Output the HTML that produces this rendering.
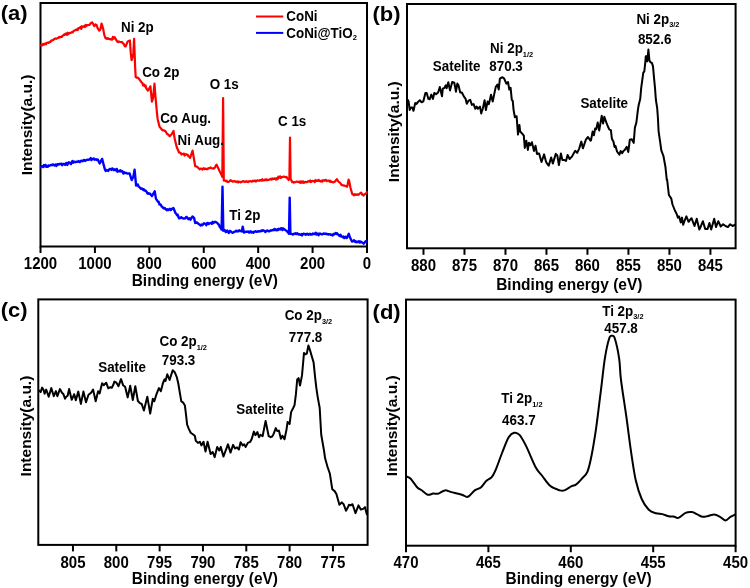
<!DOCTYPE html>
<html><head><meta charset="utf-8"><style>
html,body{margin:0;padding:0;background:#fff;}
svg{display:block;}
text{font-family:"Liberation Sans",sans-serif;font-weight:bold;fill:#000;}
svg{will-change:transform;}
</style></head><body>
<svg width="750" height="588" viewBox="0 0 750 588">
<rect x="40.5" y="3.0" width="326.50" height="243.50" fill="none" stroke="#000" stroke-width="2"/>
<rect x="407.0" y="4.0" width="328.60" height="244.30" fill="none" stroke="#000" stroke-width="2"/>
<rect x="38.3" y="299.4" width="329.30" height="245.50" fill="none" stroke="#000" stroke-width="2"/>
<rect x="406.0" y="299.6" width="329.60" height="246.10" fill="none" stroke="#000" stroke-width="2"/>
<path d="M406.4,476.5 C407.1,476.9 408.9,476.9 410.7,478.7 C412.5,480.5 415.3,485.3 417.1,487.2 C418.9,489.1 419.5,488.8 421.3,490.0 C423.1,491.2 425.7,494.1 427.7,494.7 C429.7,495.3 431.3,493.8 433.1,493.6 C434.9,493.4 436.4,494.1 438.4,493.6 C440.3,493.1 442.7,490.6 444.8,490.4 C446.9,490.1 448.4,491.4 451.2,492.1 C454.0,492.8 459.1,493.9 461.9,494.7 C464.7,495.5 465.7,497.5 467.8,496.8 C469.9,496.1 472.5,492.0 474.7,490.4 C476.9,488.8 479.2,488.8 481.1,487.2 C483.1,485.6 484.6,482.5 486.4,480.8 C488.2,479.1 490.1,479.1 491.7,477.2 C493.3,475.2 494.2,473.3 496.0,469.1 C497.8,464.9 500.3,457.3 502.4,452.0 C504.5,446.7 506.9,440.3 508.8,437.1 C510.8,433.9 512.3,433.2 514.1,432.8 C515.9,432.4 517.5,432.8 519.5,434.9 C521.5,437.0 523.2,440.3 525.9,445.6 C528.6,450.9 532.8,461.9 535.5,466.9 C538.2,471.9 539.4,472.3 541.9,475.5 C544.4,478.7 547.4,483.6 550.4,486.1 C553.4,488.6 557.7,489.7 560.0,490.4 C562.3,491.1 562.4,491.1 564.3,490.4 C566.2,489.7 569.7,487.1 571.6,486.1 C573.5,485.1 574.2,485.8 575.9,484.6 C577.6,483.4 579.8,481.0 581.7,478.8 C583.6,476.6 585.8,475.7 587.5,471.6 C589.2,467.5 590.4,461.5 591.8,454.3 C593.2,447.1 594.6,438.4 596.1,428.3 C597.6,418.2 599.0,405.2 600.5,393.6 C602.0,382.0 603.4,368.0 604.8,358.9 C606.2,349.8 607.9,342.5 609.1,338.7 C610.3,334.9 611.0,335.8 612.0,335.8 C613.0,335.8 613.7,334.9 614.9,338.7 C616.1,342.5 618.2,352.0 619.2,358.9 C620.2,365.8 619.8,370.5 621.0,380.0 C622.2,389.5 624.5,403.8 626.2,415.7 C627.9,427.6 629.4,440.7 631.0,451.4 C632.6,462.1 633.9,472.1 635.7,480.0 C637.5,487.9 639.5,494.0 641.7,499.0 C643.9,504.0 646.4,507.4 648.8,509.8 C651.2,512.2 653.7,512.6 656.0,513.3 C658.3,514.0 660.3,513.6 662.4,514.1 C664.5,514.6 666.9,515.9 668.8,516.3 C670.7,516.7 672.0,516.2 673.6,516.5 C675.2,516.8 676.4,518.5 678.4,517.9 C680.4,517.3 683.3,513.8 685.6,512.8 C687.9,511.8 690.1,511.8 692.0,512.0 C693.9,512.2 695.1,513.3 696.8,514.1 C698.5,514.9 700.5,516.5 702.4,516.8 C704.3,517.1 706.0,516.4 708.0,516.0 C710.0,515.6 712.4,514.3 714.4,514.4 C716.4,514.5 718.1,515.8 720.0,516.8 C721.9,517.8 723.9,520.5 725.6,520.5 C727.3,520.5 728.9,517.7 730.4,516.8 C731.9,515.9 733.7,515.2 734.4,514.9" fill="none" stroke="#000" stroke-width="2" stroke-linejoin="round" stroke-linecap="round"/>
<path d="M407.5,99.7 L408.5,101.0 L409.7,109.9 L410.9,107.4 L412.2,107.4 L413.5,110.8 L415.2,103.1 L416.5,104.0 L417.7,102.3 L419.9,100.2 L421.6,102.3 L423.3,101.4 L425.4,92.9 L426.7,92.9 L428.4,98.9 L429.6,99.3 L431.3,94.6 L433.0,98.9 L434.3,92.9 L436.0,94.2 L438.1,92.5 L439.8,87.0 L442.0,96.3 L442.8,88.7 L444.5,87.8 L445.8,85.3 L446.6,88.3 L448.3,82.3 L450.0,90.4 L452.2,81.9 L454.3,82.7 L456.0,91.7 L457.3,83.6 L458.5,85.3 L460.2,92.5 L461.9,92.5 L463.8,96.4 L465.5,98.6 L466.8,103.7 L468.5,100.7 L470.2,99.8 L471.9,104.9 L473.6,104.1 L475.3,108.8 L476.6,106.6 L477.8,108.8 L480.0,106.6 L481.2,113.4 L482.9,108.3 L484.6,100.3 L485.9,110.0 L487.6,101.5 L488.9,104.1 L491.0,94.7 L492.7,101.5 L495.7,87.1 L497.4,84.5 L498.7,89.6 L499.9,78.6 L501.2,77.8 L502.5,77.3 L504.2,78.6 L506.3,83.7 L508.0,82.0 L509.3,89.6 L510.6,87.9 L511.8,99.8 L512.7,100.7 L513.6,110.1 L514.9,117.2 L516.6,116.2 L518.0,134.6 L519.4,124.9 L520.2,131.5 L522.2,133.6 L523.8,135.6 L524.8,147.9 L526.3,140.7 L527.9,149.9 L528.9,142.8 L530.4,145.3 L531.9,142.2 L534.0,150.9 L535.5,145.8 L537.0,154.0 L539.1,153.5 L541.5,162.0 L544.1,154.4 L546.1,162.0 L547.4,164.0 L548.7,165.6 L551.2,157.4 L552.8,163.6 L555.8,153.9 L557.3,155.4 L558.9,165.1 L560.9,153.4 L562.4,160.0 L564.5,160.0 L566.0,161.0 L567.6,154.9 L569.6,159.0 L572.1,156.4 L573.1,154.4 L574.2,152.5 L575.2,150.8 L577.2,152.9 L579.3,148.3 L581.3,141.6 L582.9,148.3 L585.9,139.6 L588.0,137.0 L590.5,140.6 L591.0,140.3 L592.6,131.6 L593.9,135.2 L595.1,128.6 L596.3,129.1 L597.7,122.4 L599.2,130.6 L601.7,115.8 L603.1,123.5 L604.3,116.8 L606.3,122.4 L607.9,126.5 L609.4,129.6 L610.9,130.1 L611.9,138.8 L613.5,141.8 L614.5,146.9 L615.5,145.9 L617.0,151.5 L619.4,154.6 L620.6,151.0 L622.1,153.1 L623.4,151.1 L624.7,150.0 L626.7,146.9 L628.3,152.0 L629.8,139.8 L631.8,139.3 L633.7,142.9 L634.9,127.6 L636.4,122.4 L638.0,109.2 L638.7,105.0 L640.2,99.1 L641.2,87.9 L642.2,80.7 L643.3,72.6 L644.3,71.5 L645.3,62.3 L645.8,56.2 L646.8,56.2 L647.3,61.3 L648.4,49.6 L649.4,60.3 L650.4,62.3 L651.9,62.9 L653.0,66.4 L654.0,77.7 L655.0,87.9 L655.9,100.0 L657.2,108.2 L657.9,117.7 L658.6,131.3 L660.0,140.8 L661.3,150.3 L663.4,155.8 L665.4,166.7 L666.8,180.0 L667.1,179.5 L668.9,195.0 L671.3,198.6 L672.5,204.5 L674.9,210.5 L676.7,214.0 L677.9,217.6 L679.0,216.4 L680.8,222.4 L682.0,217.6 L683.2,224.8 L684.4,221.2 L686.4,216.4 L688.6,221.8 L690.0,219.9 L691.5,218.2 L694.5,226.0 L696.7,218.8 L699.3,229.5 L700.5,227.2 L701.7,224.2 L702.9,221.2 L705.2,228.9 L707.6,228.9 L709.4,223.0 L711.2,229.5 L714.2,218.8 L716.0,227.1 L718.3,221.2 L720.7,226.5 L723.1,224.2 L725.5,226.0 L727.9,227.1 L730.2,224.2 L732.6,226.0 L734.8,224.8" fill="none" stroke="#000" stroke-width="2" stroke-linejoin="round" stroke-linecap="round"/>
<path d="M39.0,390.6 L40.6,392.1 L42.1,387.6 L43.6,390.1 L44.6,393.7 L46.2,389.6 L48.7,396.7 L51.3,388.1 L53.8,396.2 L55.9,391.1 L57.4,396.2 L59.9,389.1 L62.0,392.7 L63.5,394.2 L65.0,398.8 L66.3,396.8 L67.6,395.7 L69.1,389.1 L71.7,399.8 L74.2,394.2 L75.8,400.3 L78.3,391.6 L80.9,403.9 L83.4,391.6 L86.0,402.3 L88.5,394.7 L89.8,393.8 L91.1,392.7 L93.1,389.6 L95.7,401.3 L98.1,391.3 L99.6,393.4 L102.1,383.2 L103.7,385.2 L106.2,382.7 L108.3,388.3 L110.3,387.2 L111.8,387.8 L113.1,385.3 L114.4,381.6 L116.4,382.7 L118.5,386.2 L121.0,379.1 L123.1,385.2 L125.1,386.7 L127.7,397.4 L130.2,385.7 L132.8,400.0 L135.3,386.2 L137.9,401.0 L139.9,403.1 L141.7,404.0 L143.9,410.5 L147.3,396.7 L150.2,413.6 L152.8,398.8 L154.3,401.3 L156.3,394.7 L158.9,388.1 L160.9,391.1 L163.0,383.0 L164.5,379.4 L165.5,380.9 L167.3,374.3 L169.6,379.9 L172.7,370.2 L174.7,372.2 L176.7,376.8 L178.3,383.5 L179.8,392.7 L181.3,401.3 L183.4,402.9 L184.9,405.4 L186.1,415.3 L187.1,424.5 L188.7,428.6 L190.7,432.7 L192.8,434.2 L194.8,435.7 L195.8,440.8 L197.9,442.9 L199.9,441.8 L201.4,445.4 L203.5,441.8 L205.5,451.5 L207.6,441.8 L210.6,454.1 L212.7,452.0 L214.7,457.1 L217.2,446.9 L219.3,450.5 L220.8,446.9 L223.4,456.6 L228.0,444.4 L230.5,452.6 L233.1,444.9 L235.1,448.5 L237.0,447.4 L238.9,449.5 L240.6,442.3 L242.7,445.4 L244.2,444.4 L245.7,446.9 L247.8,442.9 L250.3,441.8 L251.8,438.8 L253.9,431.6 L255.4,435.2 L257.4,432.1 L259.0,437.2 L260.5,434.7 L262.6,436.2 L265.6,420.9 L268.7,436.2 L270.7,437.2 L272.0,436.6 L273.3,434.7 L275.8,428.1 L277.3,431.1 L278.9,430.6 L280.9,438.8 L282.4,435.7 L284.5,439.3 L286.5,429.6 L287.6,421.9 L289.6,424.0 L291.1,412.1 L293.2,408.0 L294.5,405.3 L295.9,394.4 L297.2,379.5 L298.6,378.1 L300.0,385.6 L302.0,375.4 L304.0,352.9 L305.4,354.3 L306.8,353.6 L308.4,345.4 L310.2,350.9 L312.2,357.7 L313.6,362.4 L314.9,375.4 L316.3,387.6 L317.7,397.1 L319.7,408.0 L321.2,434.5 L323.9,450.0 L325.1,458.3 L327.5,466.7 L329.9,473.8 L332.3,489.3 L334.6,491.1 L336.4,494.0 L339.4,504.8 L341.8,502.4 L343.6,504.2 L346.0,510.7 L347.4,508.3 L348.9,504.8 L350.7,505.4 L352.5,504.2 L355.5,513.1 L358.5,505.4 L360.8,509.5 L363.2,508.9 L365.0,507.1 L366.8,514.3" fill="none" stroke="#000" stroke-width="2" stroke-linejoin="round" stroke-linecap="round"/>
<path d="M41.0,45.3 L41.7,45.1 L42.4,45.4 L43.1,43.9 L43.9,44.7 L44.6,43.7 L45.3,43.4 L46.0,44.3 L46.7,43.0 L47.4,42.6 L48.1,42.8 L48.9,42.7 L49.6,41.8 L50.3,41.8 L51.0,41.2 L51.7,40.3 L52.5,40.4 L53.2,40.0 L53.9,39.2 L54.7,38.8 L55.4,38.4 L56.1,38.8 L56.9,38.5 L57.6,38.1 L58.4,38.0 L59.1,36.9 L59.8,37.3 L60.6,37.2 L61.3,36.7 L62.0,36.8 L62.7,35.6 L63.4,35.5 L64.2,34.3 L64.9,34.9 L65.6,33.6 L66.3,33.7 L67.0,34.8 L67.7,32.7 L68.4,34.0 L69.1,33.4 L69.9,32.8 L70.6,32.9 L71.3,32.6 L72.0,32.0 L72.7,32.3 L73.4,31.2 L74.1,30.7 L74.8,30.4 L75.5,29.9 L76.2,30.1 L76.9,29.3 L77.7,30.0 L78.4,28.1 L79.1,28.2 L79.8,28.0 L80.5,27.0 L81.2,28.9 L81.9,26.2 L82.6,27.2 L83.3,26.7 L84.1,26.2 L84.8,27.1 L85.5,24.8 L86.3,26.1 L87.0,25.2 L89.5,24.8 L90.4,23.6 L91.2,23.0 L92.1,22.3 L94.4,26.1 L95.5,24.4 L96.7,25.2 L97.6,28.2 L99.3,30.7 L100.5,29.0 L101.6,23.5 L103.1,28.6 L104.4,35.4 L105.6,38.4 L106.3,38.1 L107.1,39.0 L107.8,38.1 L108.6,38.8 L109.5,38.9 L110.3,39.3 L111.2,39.2 L112.0,39.7 L112.9,36.8 L113.8,38.5 L114.6,37.1 L117.1,41.4 L118.0,42.1 L118.8,41.4 L119.7,41.8 L122.2,42.2 L123.0,43.4 L123.9,44.1 L124.8,46.3 L125.6,46.5 L127.7,41.4 L129.9,40.5 L130.7,52.4 L131.6,60.1 L133.3,54.1 L134.1,38.8 L135.1,66.5 L135.7,77.3 L136.6,77.6 L137.4,77.6 L138.3,78.0 L139.1,79.0 L139.9,80.1 L140.7,81.2 L141.5,82.4 L142.3,82.9 L143.1,85.5 L143.9,84.3 L144.7,86.3 L145.5,85.4 L146.3,88.4 L147.1,89.5 L147.9,90.7 L150.4,86.3 L151.9,101.6 L153.0,98.4 L154.5,83.7 L155.5,97.1 L156.8,111.1 L157.6,118.9 L159.5,126.6 L162.0,129.8 L162.8,130.3 L163.6,130.3 L164.4,130.6 L165.2,131.0 L166.1,132.2 L166.9,133.7 L167.8,134.2 L169.7,136.1 L171.6,134.2 L173.5,131.0 L174.8,139.3 L176.7,147.0 L179.2,152.7 L180.0,152.7 L180.8,153.0 L181.5,154.5 L182.3,154.0 L183.1,154.0 L183.9,153.6 L184.6,155.5 L185.4,154.8 L186.1,154.2 L186.9,154.6 L187.7,154.8 L188.5,156.4 L189.3,156.5 L190.1,157.8 L192.6,150.6 L193.9,158.5 L195.2,166.1 L197.1,166.8 L199.6,169.3 L200.3,168.7 L201.0,168.5 L201.7,168.8 L202.4,169.6 L203.2,168.7 L203.9,168.1 L204.6,169.2 L205.3,168.8 L206.0,168.7 L206.7,169.1 L207.5,169.2 L208.2,168.3 L208.9,168.2 L209.6,168.2 L210.4,167.5 L211.1,168.0 L213.5,168.7 L214.3,168.0 L215.1,167.4 L215.8,165.7 L216.6,164.6 L218.6,169.0 L219.3,170.5 L220.1,172.1 L220.8,173.4 L221.6,175.0 L222.3,177.0 L223.1,98.0 L223.8,180.6 L224.5,180.6 L225.2,180.6 L225.9,181.1 L226.7,180.7 L227.4,182.0 L228.1,182.0 L228.9,181.8 L229.7,181.0 L230.6,180.1 L231.4,181.2 L232.2,181.0 L233.0,181.8 L233.9,181.0 L234.8,181.3 L235.6,181.8 L236.3,181.5 L237.1,182.2 L237.8,181.3 L238.5,182.4 L239.3,181.7 L240.0,181.9 L240.7,182.4 L241.4,181.9 L242.1,181.7 L242.9,181.0 L243.6,181.4 L244.3,181.6 L245.0,182.0 L245.7,181.8 L246.4,181.2 L247.2,181.8 L247.9,182.1 L248.6,181.4 L249.3,181.5 L250.0,181.2 L250.7,181.1 L251.5,181.7 L252.2,181.5 L252.9,180.6 L253.6,181.2 L254.4,180.7 L255.1,180.5 L255.8,181.5 L256.5,181.2 L257.3,180.3 L258.0,180.6 L258.7,180.5 L259.4,180.7 L260.1,180.0 L260.8,180.3 L261.6,180.7 L262.3,179.2 L263.0,180.4 L263.7,180.5 L264.4,180.3 L265.1,179.3 L265.9,180.1 L266.6,179.4 L267.3,180.2 L268.0,179.8 L268.7,180.0 L269.4,179.6 L270.1,179.0 L270.8,178.9 L271.5,179.6 L272.2,178.5 L272.9,179.1 L273.6,178.7 L274.4,178.8 L275.2,178.3 L276.0,179.6 L276.8,178.2 L277.6,179.2 L278.4,176.7 L279.2,177.7 L280.0,176.3 L280.8,177.9 L281.5,177.5 L282.3,176.8 L283.1,176.8 L283.9,176.6 L285.8,177.3 L286.5,176.9 L287.2,178.3 L287.9,178.8 L288.6,180.0 L289.4,178.0 L290.0,137.7 L290.6,178.7 L292.3,182.2 L293.0,182.0 L293.8,182.6 L294.5,182.0 L295.3,182.2 L296.0,181.9 L296.7,181.5 L297.4,181.7 L298.2,182.0 L298.9,181.7 L299.6,182.6 L300.3,181.4 L301.1,182.9 L301.8,181.4 L302.5,182.5 L303.2,181.5 L304.0,182.8 L304.7,182.0 L305.4,181.9 L306.2,182.1 L307.0,182.2 L307.7,181.4 L308.5,181.2 L309.3,181.7 L310.1,180.5 L310.9,182.1 L311.6,181.0 L312.4,180.9 L313.2,181.1 L314.0,181.0 L314.8,182.1 L315.5,180.0 L316.2,181.0 L317.0,180.7 L317.8,181.1 L318.5,179.8 L319.2,180.6 L320.0,181.2 L320.8,181.6 L321.5,180.7 L322.2,181.6 L323.0,180.2 L323.7,180.7 L324.5,180.6 L325.2,179.9 L325.9,179.9 L326.7,181.1 L327.4,180.8 L328.2,180.6 L328.9,180.7 L329.6,181.7 L330.3,180.7 L331.0,181.8 L331.7,181.8 L332.4,182.1 L333.1,182.4 L335.0,181.5 L336.9,179.1 L338.3,181.5 L340.1,182.9 L341.5,184.7 L342.3,185.2 L343.1,185.3 L344.0,185.6 L344.8,185.7 L347.2,186.6 L348.6,179.6 L349.5,182.4 L350.4,187.5 L352.3,194.1 L353.0,194.3 L353.8,195.3 L354.5,194.1 L355.3,194.9 L356.0,194.4 L356.7,194.8 L357.4,194.3 L358.1,194.9 L358.8,194.5 L360.7,192.7 L361.4,192.9 L362.1,194.7 L362.8,194.4 L363.5,195.5 L364.3,194.4 L365.1,194.0 L366.0,193.5 L366.8,192.2" fill="none" stroke="#ff0000" stroke-width="2.2" stroke-linejoin="round" stroke-linecap="round"/>
<path d="M41.0,167.0 L41.8,166.2 L42.5,166.1 L43.2,167.0 L44.0,165.1 L44.8,166.3 L45.5,164.9 L46.2,166.8 L47.0,166.1 L47.8,166.7 L48.5,165.4 L49.2,165.9 L50.0,165.5 L50.7,165.2 L51.4,164.9 L52.1,165.3 L52.9,164.4 L53.6,164.8 L54.3,165.4 L55.0,164.9 L55.7,164.5 L56.4,166.0 L57.1,164.6 L57.9,164.1 L58.6,164.5 L59.3,164.0 L60.0,164.2 L60.7,163.9 L61.5,163.8 L62.2,165.2 L62.9,163.9 L63.6,163.9 L64.4,164.1 L65.1,164.8 L65.8,163.4 L66.5,163.1 L67.3,164.9 L68.0,163.3 L68.8,162.3 L69.5,162.8 L70.2,163.3 L71.0,164.1 L71.8,162.0 L72.5,161.0 L73.2,162.7 L74.0,161.9 L74.8,161.8 L75.5,162.2 L76.2,161.9 L77.0,161.6 L77.8,161.7 L78.5,161.1 L79.2,162.0 L80.0,162.0 L80.8,161.0 L81.5,160.6 L82.2,161.2 L83.0,161.0 L83.8,159.9 L84.5,160.2 L85.2,160.9 L86.0,160.2 L86.8,160.0 L87.5,159.7 L88.3,159.8 L89.1,159.5 L89.9,159.4 L90.7,158.1 L91.4,160.1 L92.2,158.9 L93.0,159.1 L93.8,158.5 L94.6,159.7 L95.4,159.4 L96.2,159.3 L97.0,160.0 L97.8,159.4 L99.7,163.5 L102.1,158.9 L104.9,169.5 L105.7,170.9 L106.5,169.9 L107.4,170.5 L108.2,170.9 L109.0,169.6 L109.8,168.9 L110.6,169.2 L111.4,169.9 L112.2,168.4 L113.0,169.2 L113.8,170.1 L114.6,169.3 L115.3,170.2 L116.0,170.1 L116.7,168.9 L117.4,171.7 L118.2,170.9 L118.9,171.2 L119.6,171.3 L120.3,170.2 L121.0,171.5 L121.8,170.9 L122.6,171.4 L123.4,173.6 L124.2,172.2 L125.0,173.0 L125.8,172.9 L126.5,173.0 L127.3,173.5 L128.1,173.6 L128.8,173.5 L129.6,173.4 L131.7,180.0 L133.4,176.4 L134.6,169.8 L136.1,185.6 L137.0,185.2 L137.8,184.4 L138.7,186.6 L139.4,187.2 L140.1,187.8 L140.9,188.8 L141.6,188.5 L142.3,188.7 L143.1,189.8 L143.8,189.2 L144.5,190.6 L145.3,190.4 L146.0,190.9 L146.8,192.1 L147.6,193.6 L148.4,193.2 L149.1,193.9 L149.9,193.6 L151.9,196.0 L152.8,194.6 L153.8,193.0 L154.7,191.3 L156.0,198.9 L156.8,200.0 L157.7,201.5 L158.6,201.6 L159.4,204.4 L160.1,204.2 L160.8,204.7 L161.6,206.5 L162.3,206.9 L163.0,207.7 L163.8,208.5 L164.5,207.9 L165.2,208.6 L166.0,209.4 L166.7,210.2 L167.5,209.2 L168.3,210.1 L169.1,209.5 L169.8,208.8 L170.6,210.0 L171.3,209.6 L172.0,208.6 L172.7,208.6 L173.4,208.1 L175.6,213.2 L176.3,213.8 L177.0,215.2 L177.7,214.7 L178.4,216.9 L179.2,218.4 L180.0,218.2 L180.8,217.4 L181.5,217.3 L182.3,218.1 L183.1,218.3 L183.9,218.6 L184.6,218.4 L185.4,218.3 L186.2,216.9 L186.9,217.3 L187.7,217.9 L188.4,219.2 L189.1,218.9 L189.8,218.3 L190.5,219.7 L192.4,216.5 L194.1,217.9 L195.2,223.0 L195.9,222.6 L196.6,222.4 L197.3,222.8 L198.0,223.5 L199.9,224.9 L200.7,225.5 L201.5,224.5 L202.3,225.2 L203.1,224.4 L203.9,223.3 L204.7,223.6 L205.5,223.9 L206.3,225.2 L207.1,223.2 L207.9,222.9 L208.7,224.1 L209.5,223.3 L210.3,223.1 L211.1,223.0 L211.9,223.8 L212.7,221.8 L213.5,223.0 L214.3,222.1 L215.1,221.8 L215.9,222.1 L216.7,222.5 L219.0,224.9 L219.9,227.2 L220.7,227.9 L221.6,229.6 L222.5,186.8 L223.3,230.8 L224.1,229.8 L224.9,230.3 L225.7,232.0 L226.4,231.8 L227.2,230.6 L228.0,231.4 L228.8,233.0 L229.5,231.3 L230.2,230.9 L231.0,231.6 L231.8,232.3 L232.5,232.8 L233.2,232.6 L234.0,232.0 L234.8,231.6 L235.5,231.4 L236.2,230.7 L237.0,231.4 L237.8,230.9 L238.5,231.3 L239.2,230.2 L240.0,230.8 L241.8,231.4 L242.7,226.6 L243.9,232.6 L244.6,232.2 L245.4,232.0 L246.1,231.7 L246.8,231.7 L247.6,231.7 L248.3,231.5 L249.1,232.6 L249.8,232.2 L250.5,231.3 L251.3,232.4 L252.0,232.0 L252.7,232.1 L253.4,232.8 L254.1,231.7 L254.8,231.6 L255.5,231.2 L256.2,231.7 L256.9,231.8 L257.6,231.5 L258.4,231.2 L259.1,231.6 L259.8,231.3 L260.5,231.3 L261.2,230.5 L261.9,231.1 L262.6,230.3 L263.3,230.4 L264.0,230.8 L264.7,230.9 L265.4,232.0 L266.1,231.3 L266.8,230.7 L267.5,230.5 L268.2,231.2 L268.9,231.4 L269.6,231.3 L270.4,230.4 L271.1,230.6 L271.8,230.2 L272.5,230.2 L273.2,229.8 L273.9,230.2 L274.6,228.9 L275.3,229.5 L276.0,230.2 L276.7,230.3 L277.4,229.3 L278.2,230.0 L278.9,228.7 L279.6,229.1 L280.3,229.4 L281.0,228.3 L281.8,228.3 L282.5,230.1 L283.2,228.4 L285.6,230.2 L286.5,230.7 L287.3,231.6 L288.1,232.5 L289.0,233.8 L289.7,197.6 L290.4,233.8 L291.1,233.9 L291.9,233.9 L292.6,234.5 L293.4,234.4 L294.1,233.7 L294.9,233.8 L295.6,233.2 L296.4,234.1 L297.1,233.2 L297.8,233.7 L298.5,234.6 L299.3,234.2 L300.0,234.6 L300.7,234.7 L301.4,234.1 L302.1,235.5 L302.9,233.9 L303.6,233.8 L304.3,233.9 L305.0,234.2 L305.7,234.9 L306.4,234.1 L307.1,233.7 L307.9,234.4 L308.6,234.8 L309.3,234.0 L310.0,233.8 L310.7,234.6 L311.4,234.5 L312.1,234.5 L312.9,233.4 L313.6,234.0 L314.3,234.1 L315.0,233.8 L315.7,232.7 L316.4,234.6 L317.1,233.9 L317.9,233.6 L318.6,235.3 L319.3,234.0 L320.0,233.5 L320.7,233.9 L321.4,234.3 L322.1,234.4 L322.9,233.9 L323.6,233.4 L324.3,233.6 L325.0,234.0 L325.7,233.6 L326.4,233.6 L327.1,234.3 L327.8,234.1 L328.5,234.5 L329.2,234.1 L329.9,234.2 L330.6,234.7 L331.3,234.7 L332.0,235.0 L332.7,235.4 L333.4,233.9 L334.1,234.4 L334.9,233.9 L335.6,232.9 L336.3,233.9 L337.0,233.2 L339.0,235.5 L339.8,235.9 L340.5,234.7 L341.2,236.6 L342.0,236.5 L342.7,237.3 L343.4,236.4 L344.1,238.1 L344.9,237.3 L345.6,236.7 L346.3,238.0 L347.0,237.8 L348.8,233.8 L350.0,237.5 L352.0,241.5 L352.7,241.3 L353.4,240.8 L354.1,240.3 L354.9,241.8 L355.6,241.3 L356.3,242.2 L357.0,241.8 L357.7,242.0 L358.4,241.4 L359.1,241.3 L359.8,242.6 L360.5,241.5 L363.0,243.0 L363.7,243.7 L364.4,242.9 L365.1,241.9 L365.8,241.2 L366.5,241.5" fill="none" stroke="#0000ff" stroke-width="2.4" stroke-linejoin="round" stroke-linecap="round"/>
<line x1="40.50" y1="246.5" x2="40.50" y2="253.0" stroke="#000" stroke-width="2"/>
<text transform="translate(40.50,268.8) scale(1,1.04)" font-size="15" text-anchor="middle" >1200</text>
<line x1="94.92" y1="246.5" x2="94.92" y2="253.0" stroke="#000" stroke-width="2"/>
<text transform="translate(94.92,268.8) scale(1,1.04)" font-size="15" text-anchor="middle" >1000</text>
<line x1="149.33" y1="246.5" x2="149.33" y2="253.0" stroke="#000" stroke-width="2"/>
<text transform="translate(149.33,268.8) scale(1,1.04)" font-size="15" text-anchor="middle" >800</text>
<line x1="203.75" y1="246.5" x2="203.75" y2="253.0" stroke="#000" stroke-width="2"/>
<text transform="translate(203.75,268.8) scale(1,1.04)" font-size="15" text-anchor="middle" >600</text>
<line x1="258.17" y1="246.5" x2="258.17" y2="253.0" stroke="#000" stroke-width="2"/>
<text transform="translate(258.17,268.8) scale(1,1.04)" font-size="15" text-anchor="middle" >400</text>
<line x1="312.58" y1="246.5" x2="312.58" y2="253.0" stroke="#000" stroke-width="2"/>
<text transform="translate(312.58,268.8) scale(1,1.04)" font-size="15" text-anchor="middle" >200</text>
<line x1="367.00" y1="246.5" x2="367.00" y2="253.0" stroke="#000" stroke-width="2"/>
<text transform="translate(367.00,268.8) scale(1,1.04)" font-size="15" text-anchor="middle" >0</text>
<line x1="423.48" y1="248.3" x2="423.48" y2="254.8" stroke="#000" stroke-width="2"/>
<text transform="translate(423.48,270.8) scale(1,1.04)" font-size="15" text-anchor="middle" >880</text>
<line x1="464.47" y1="248.3" x2="464.47" y2="254.8" stroke="#000" stroke-width="2"/>
<text transform="translate(464.47,270.8) scale(1,1.04)" font-size="15" text-anchor="middle" >875</text>
<line x1="505.47" y1="248.3" x2="505.47" y2="254.8" stroke="#000" stroke-width="2"/>
<text transform="translate(505.47,270.8) scale(1,1.04)" font-size="15" text-anchor="middle" >870</text>
<line x1="546.46" y1="248.3" x2="546.46" y2="254.8" stroke="#000" stroke-width="2"/>
<text transform="translate(546.46,270.8) scale(1,1.04)" font-size="15" text-anchor="middle" >865</text>
<line x1="587.45" y1="248.3" x2="587.45" y2="254.8" stroke="#000" stroke-width="2"/>
<text transform="translate(587.45,270.8) scale(1,1.04)" font-size="15" text-anchor="middle" >860</text>
<line x1="628.44" y1="248.3" x2="628.44" y2="254.8" stroke="#000" stroke-width="2"/>
<text transform="translate(628.44,270.8) scale(1,1.04)" font-size="15" text-anchor="middle" >855</text>
<line x1="669.44" y1="248.3" x2="669.44" y2="254.8" stroke="#000" stroke-width="2"/>
<text transform="translate(669.44,270.8) scale(1,1.04)" font-size="15" text-anchor="middle" >850</text>
<line x1="710.43" y1="248.3" x2="710.43" y2="254.8" stroke="#000" stroke-width="2"/>
<text transform="translate(710.43,270.8) scale(1,1.04)" font-size="15" text-anchor="middle" >845</text>
<line x1="72.96" y1="544.9" x2="72.96" y2="551.4" stroke="#000" stroke-width="2"/>
<text transform="translate(72.96,567.6) scale(1,1.04)" font-size="15" text-anchor="middle" >805</text>
<line x1="116.29" y1="544.9" x2="116.29" y2="551.4" stroke="#000" stroke-width="2"/>
<text transform="translate(116.29,567.6) scale(1,1.04)" font-size="15" text-anchor="middle" >800</text>
<line x1="159.62" y1="544.9" x2="159.62" y2="551.4" stroke="#000" stroke-width="2"/>
<text transform="translate(159.62,567.6) scale(1,1.04)" font-size="15" text-anchor="middle" >795</text>
<line x1="202.95" y1="544.9" x2="202.95" y2="551.4" stroke="#000" stroke-width="2"/>
<text transform="translate(202.95,567.6) scale(1,1.04)" font-size="15" text-anchor="middle" >790</text>
<line x1="246.28" y1="544.9" x2="246.28" y2="551.4" stroke="#000" stroke-width="2"/>
<text transform="translate(246.28,567.6) scale(1,1.04)" font-size="15" text-anchor="middle" >785</text>
<line x1="289.61" y1="544.9" x2="289.61" y2="551.4" stroke="#000" stroke-width="2"/>
<text transform="translate(289.61,567.6) scale(1,1.04)" font-size="15" text-anchor="middle" >780</text>
<line x1="332.94" y1="544.9" x2="332.94" y2="551.4" stroke="#000" stroke-width="2"/>
<text transform="translate(332.94,567.6) scale(1,1.04)" font-size="15" text-anchor="middle" >775</text>
<line x1="406.00" y1="545.7" x2="406.00" y2="552.2" stroke="#000" stroke-width="2"/>
<text transform="translate(406.00,567.6) scale(1,1.04)" font-size="15" text-anchor="middle" >470</text>
<line x1="488.40" y1="545.7" x2="488.40" y2="552.2" stroke="#000" stroke-width="2"/>
<text transform="translate(488.40,567.6) scale(1,1.04)" font-size="15" text-anchor="middle" >465</text>
<line x1="570.80" y1="545.7" x2="570.80" y2="552.2" stroke="#000" stroke-width="2"/>
<text transform="translate(570.80,567.6) scale(1,1.04)" font-size="15" text-anchor="middle" >460</text>
<line x1="653.20" y1="545.7" x2="653.20" y2="552.2" stroke="#000" stroke-width="2"/>
<text transform="translate(653.20,567.6) scale(1,1.04)" font-size="15" text-anchor="middle" >455</text>
<line x1="735.60" y1="545.7" x2="735.60" y2="552.2" stroke="#000" stroke-width="2"/>
<text transform="translate(735.60,567.6) scale(1,1.04)" font-size="15" text-anchor="middle" >450</text>
<text transform="translate(204.8,286.1) scale(1,1.03)" font-size="15.5" text-anchor="middle" >Binding energy (eV)</text>
<text transform="translate(569.3,289.6) scale(1,1.03)" font-size="15.5" text-anchor="middle" >Binding energy (eV)</text>
<text transform="translate(204.9,584.4) scale(1,1.03)" font-size="15.5" text-anchor="middle" >Binding energy (eV)</text>
<text transform="translate(578.6,584.0) scale(1,1.03)" font-size="15.5" text-anchor="middle" >Binding energy (eV)</text>
<text transform="translate(31.8,124.94999999999999) rotate(-90)" x="0" y="0" font-size="15.5" text-anchor="middle">Intensity(a.u.)</text>
<text transform="translate(398.9,131.75) rotate(-90)" x="0" y="0" font-size="15.5" text-anchor="middle">Intensity(a.u.)</text>
<text transform="translate(31.4,426.05) rotate(-90)" x="0" y="0" font-size="15.5" text-anchor="middle">Intensity(a.u.)</text>
<text transform="translate(397.1,425.8) rotate(-90)" x="0" y="0" font-size="15.5" text-anchor="middle">Intensity(a.u.)</text>
<text transform="translate(0.7,19.8) scale(1,0.93)" font-size="22" text-anchor="start" >(a)</text>
<text transform="translate(372.5,20.6) scale(1,0.93)" font-size="22" text-anchor="start" >(b)</text>
<text transform="translate(0.7,316.8) scale(1,0.93)" font-size="22" text-anchor="start" >(c)</text>
<text transform="translate(372.6,318.8) scale(1,0.93)" font-size="22" text-anchor="start" >(d)</text>
<text transform="translate(121.0,32.4) scale(1,1.03)" font-size="13.4" text-anchor="start" >Ni 2p</text>
<text transform="translate(142.2,77.1) scale(1,1.03)" font-size="13.4" text-anchor="start" >Co 2p</text>
<text transform="translate(160.2,123.4) scale(1,1.03)" font-size="13.4" text-anchor="start" >Co Aug.</text>
<text transform="translate(177.6,144.6) scale(1,1.03)" font-size="13.4" text-anchor="start" >Ni Aug.</text>
<text transform="translate(209.7,88.9) scale(1,1.03)" font-size="13.4" text-anchor="start" >O 1s</text>
<text transform="translate(278.0,125.8) scale(1,1.03)" font-size="13.4" text-anchor="start" >C 1s</text>
<text transform="translate(229.3,219.6) scale(1,1.03)" font-size="13.4" text-anchor="start" >Ti 2p</text>
<line x1="256" y1="16.5" x2="283.3" y2="16.5" stroke="#f00" stroke-width="2"/>
<line x1="256" y1="32.9" x2="283.3" y2="32.9" stroke="#00f" stroke-width="2"/>
<text transform="translate(286.3,21.3) scale(1,1.03)" font-size="13.4" text-anchor="start" >CoNi</text>
<text transform="translate(286.3,37.8) scale(1,1.03)" font-size="13.4" text-anchor="start" >CoNi@TiO<tspan font-size="7.5" dy="1.8">2</tspan></text>
<text transform="translate(432.8,71.1) scale(1,1.03)" font-size="13.4" text-anchor="start" >Satelite</text>
<text transform="translate(490.1,53.2) scale(1,1.03)" font-size="13.4" text-anchor="start" >Ni 2p<tspan font-size="7.4" dy="3.6">1/2</tspan></text>
<text transform="translate(489.3,70.8) scale(1,1.03)" font-size="13.4" text-anchor="start" >870.3</text>
<text transform="translate(636.4,23.7) scale(1,1.03)" font-size="13.4" text-anchor="start" >Ni 2p<tspan font-size="7.4" dy="3.6">3/2</tspan></text>
<text transform="translate(637.9,43.8) scale(1,1.03)" font-size="13.4" text-anchor="start" >852.6</text>
<text transform="translate(580.4,108.3) scale(1,1.03)" font-size="13.4" text-anchor="start" >Satelite</text>
<text transform="translate(98.2,372.1) scale(1,1.03)" font-size="13.4" text-anchor="start" >Satelite</text>
<text transform="translate(159.5,346.4) scale(1,1.03)" font-size="13.4" text-anchor="start" >Co 2p<tspan font-size="7.4" dy="3.6">1/2</tspan></text>
<text transform="translate(161.8,365.2) scale(1,1.03)" font-size="13.4" text-anchor="start" >793.3</text>
<text transform="translate(284.7,320.2) scale(1,1.03)" font-size="13.4" text-anchor="start" >Co 2p<tspan font-size="7.4" dy="3.6">3/2</tspan></text>
<text transform="translate(288.8,342.2) scale(1,1.03)" font-size="13.4" text-anchor="start" >777.8</text>
<text transform="translate(236.3,414.1) scale(1,1.03)" font-size="13.4" text-anchor="start" >Satelite</text>
<text transform="translate(501.2,403.1) scale(1,1.03)" font-size="13.4" text-anchor="start" >Ti 2p<tspan font-size="7.4" dy="3.6">1/2</tspan></text>
<text transform="translate(502.1,425.4) scale(1,1.03)" font-size="13.4" text-anchor="start" >463.7</text>
<text transform="translate(602.2,315.7) scale(1,1.03)" font-size="13.4" text-anchor="start" >Ti 2p<tspan font-size="7.4" dy="3.6">3/2</tspan></text>
<text transform="translate(604.3,332.8) scale(1,1.03)" font-size="13.4" text-anchor="start" >457.8</text>
</svg></body></html>
